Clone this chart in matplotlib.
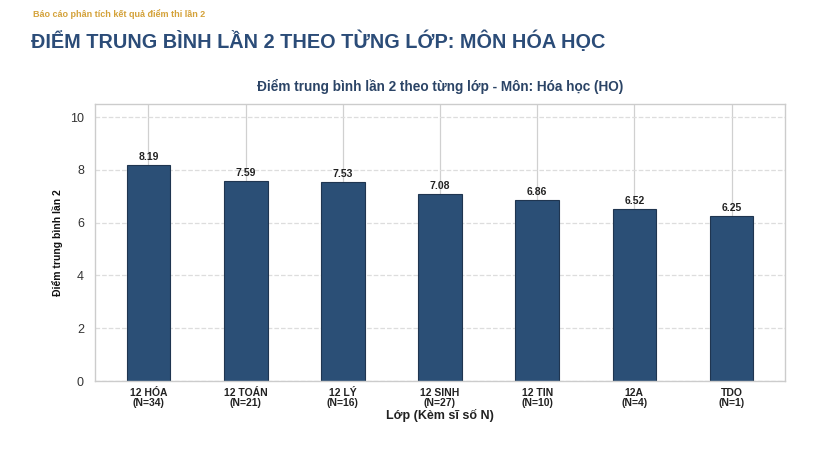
import matplotlib
matplotlib.use("Agg")
import matplotlib.pyplot as plt

classes = ["12 HÓA", "12 TOÁN", "12 LÝ", "12 SINH", "12 TIN", "12A", "TDO"]
counts = [34, 21, 16, 27, 10, 4, 1]
scores = [8.19, 7.59, 7.53, 7.08, 6.86, 6.52, 6.25]
yticks = [0, 2, 4, 6, 8, 10]

plt.rcParams['font.family'] = ['Liberation Sans', 'DejaVu Sans']

fig = plt.figure(figsize=(8.4, 4.54), dpi=100)
fig.text(33/840, 1 - 14/454, "Báo cáo phân tích kết quả điểm thi lần 2", fontsize=6.5,
         fontweight='bold', color='#d4a23a', va='center', ha='left')
fig.text(31/840, 1 - 41/454, "ĐIỂM TRUNG BÌNH LẦN 2 THEO TỪNG LỚP: MÔN HÓA HỌC", fontsize=14.3,
         fontweight='bold', color='#2b4c78', va='center', ha='left')

ax = fig.add_axes([95/840, 1 - 381/454, 690/840, 277/454])
x = list(range(len(classes)))
ax.set_axisbelow(True)
ax.grid(axis='y', linestyle='--', color='#dddddd', linewidth=0.9)
ax.grid(axis='x', linestyle='-', color='#d0d0d0', linewidth=0.9)
ax.bar(x, scores, width=0.45, color='#2b4f76', edgecolor='#1f3550', linewidth=0.8)
for xi, v in zip(x, scores):
    ax.text(xi, v + 0.12, f"{v:.2f}", ha='center', va='bottom', fontsize=7.5,
            fontweight='bold', color='#222222')
ax.set_xlim(-0.55, 6.55)
ax.set_ylim(0, 10.5)
ax.set_yticks(yticks)
ax.set_yticklabels([str(t) for t in yticks], fontsize=9, color='#333333')
ax.set_xticks(x)
ax.set_xticklabels([f"{c}\n(N={n})" for c, n in zip(classes, counts)], fontsize=7.5,
                   fontweight='bold', color='#222222', linespacing=1.0)
ax.tick_params(axis='x', length=0, pad=5)
ax.tick_params(axis='y', length=0, pad=8)
for s in ax.spines.values():
    s.set_color('#cccccc')
    s.set_linewidth(1.0)
ax.set_title("Điểm trung bình lần 2 theo từng lớp - Môn: Hóa học (HO)", fontsize=9.8,
             fontweight='bold', color='#2b4466', pad=9)
ax.set_ylabel("Điểm trung bình lần 2", fontsize=7.5, fontweight='bold', color='#111111', labelpad=5)
ax.set_xlabel("Lớp (Kèm sĩ số N)", fontsize=9, fontweight='bold', color='#222222', labelpad=1)

fig.savefig("out.png", dpi=100)
